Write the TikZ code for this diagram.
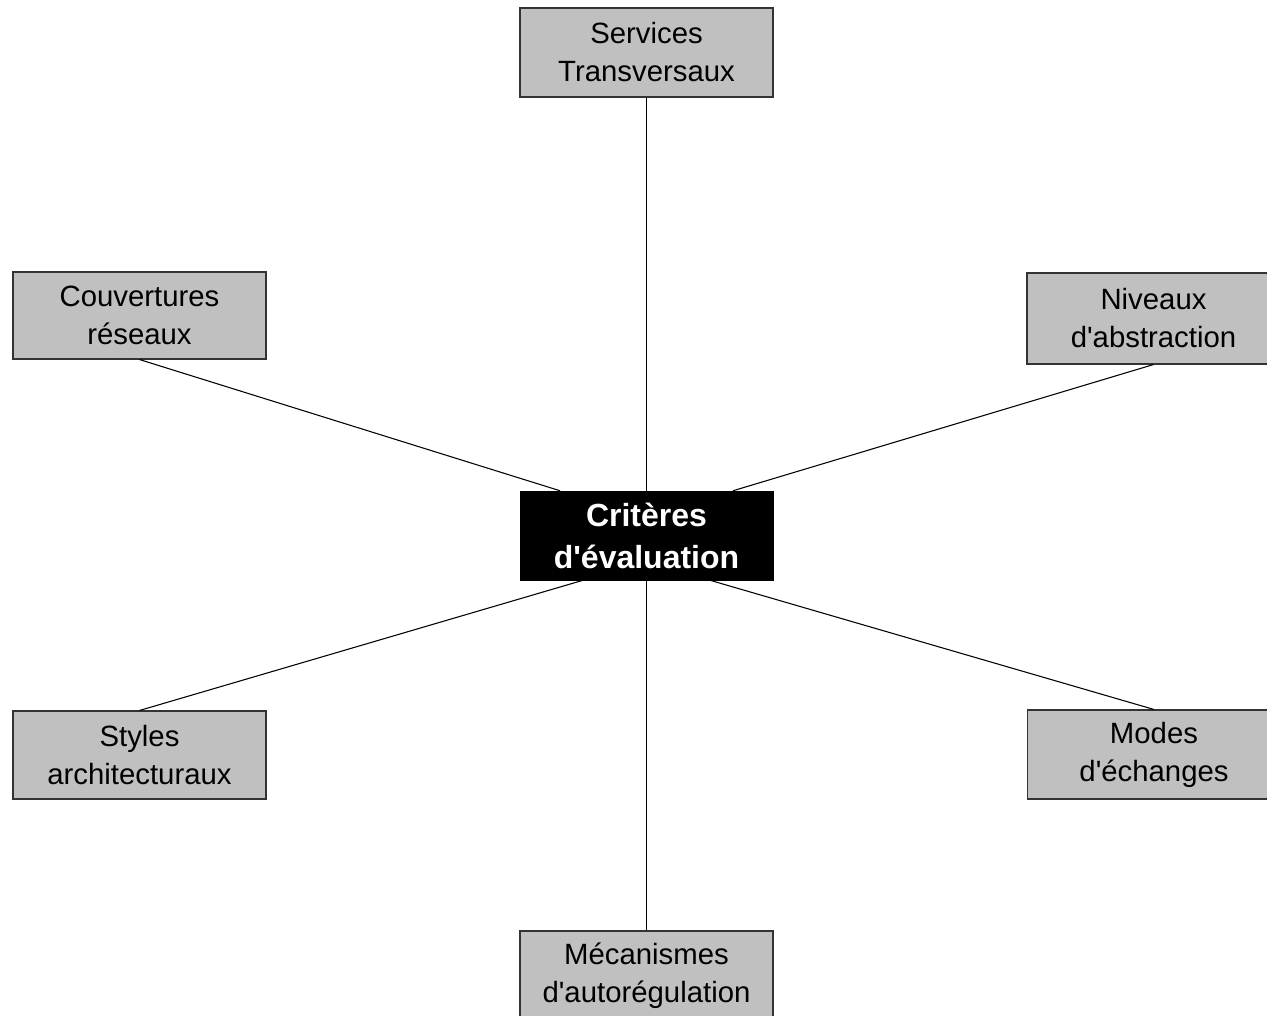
\documentclass[tikz,border=0pt]{standalone}
\usepackage{fontspec}
\setmainfont{Liberation Sans}[Ligatures=TeXOff]
\usetikzlibrary{calc}
\definecolor{boxgray}{HTML}{C0C0C0}
\definecolor{boxline}{HTML}{333333}
\tikzset{
  topic/.style={draw=boxline, fill=boxgray, line width=0.8pt, inner sep=0pt,
    minimum width=189.75pt, minimum height=66pt, align=center,
    font=\fontsize{22pt}{28.5pt}\selectfont},
  hub/.style={draw=black, fill=black, text=white, inner sep=0pt,
    minimum width=189.75pt, minimum height=66.75pt, align=center,
    font=\fontsize{24pt}{31.5pt}\selectfont\bfseries},
  link/.style={draw=black, line width=0.8pt}
}
\begin{document}
\begin{tikzpicture}[x=0.75pt, y=-0.75pt]
  \useasboundingbox (0,0) rectangle (1267,1015);
  \begin{scope}
    \clip (0,0) rectangle (1267,1015);
    % central node
    \node[hub] (crit) at (646.5,535.5) {Critères\\d'évaluation};
    % surrounding criteria
    \node[topic, minimum height=66.75pt] (serv) at (646.5,52.5) {Services\\Transversaux};
    \node[topic, minimum height=65.25pt] (cov) at (139.5,315.5) {Couvertures\\réseaux};
    \node[topic, minimum height=68.25pt] (niv) at (1153.5,318.5) {Niveaux\\d'abstraction};
    \node[topic] (sty) at (139.5,755) {Styles\\architecturaux};
    \node[topic, minimum height=66.75pt] (mod) at (1154,754.5) {Modes\\d'échanges};
    \node[topic, minimum height=66.75pt] (mec) at (646.5,975.5) {Mécanismes\\d'autorégulation};
    % connectors
    \draw[link] (serv.south) -- (crit.north);
    \draw[link] (cov.south) -- ($(crit.north)+(-86.5,0)$);
    \draw[link] (niv.south) -- ($(crit.north)+(86.5,0)$);
    \draw[link] (sty.north) -- ($(crit.south)+(-63.5,0)$);
    \draw[link] (mod.north) -- ($(crit.south)+(63.5,0)$);
    \draw[link] (mec.north) -- (crit.south);
  \end{scope}
\end{tikzpicture}
\end{document}
